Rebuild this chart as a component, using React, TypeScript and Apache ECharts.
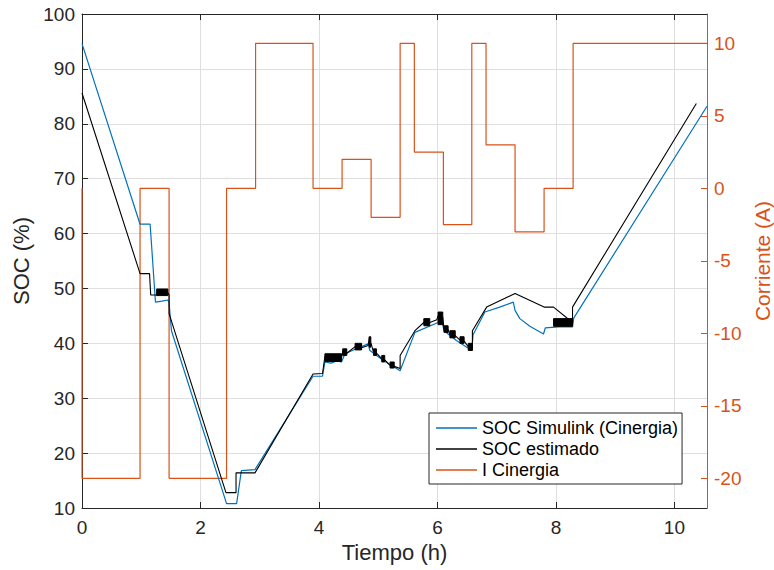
import React, { useEffect, useRef } from 'react';
import * as echarts from 'echarts';

// SOC Simulink (Cinergia) – time (h) / SOC (%)
const tSim = [0, 0.98, 1.15, 1.24, 1.35, 1.45, 1.47, 1.51, 2.44, 2.61, 2.69, 2.92, 3.90, 4.06, 4.10, 4.20, 4.30, 4.38, 4.44, 4.63, 4.83, 4.86, 5.08, 5.37, 5.62, 6.01, 6.07, 6.11, 6.32, 6.58, 6.60, 6.80, 7.05, 7.28, 7.31, 7.39, 7.56, 7.79, 7.82, 8.05, 8.28, 8.30, 10.55];
const socSim = [94.6, 61.7, 61.7, 47.5, 47.7, 47.9, 47.4, 42.3, 10.8, 10.8, 16.8, 17.0, 34.0, 34.0, 36.6, 36.4, 36.8, 36.6, 38.1, 39.0, 39.9, 38.7, 36.9, 35.0, 42.0, 43.8, 44.3, 42.3, 40.5, 38.7, 41.5, 45.7, 46.6, 47.5, 46.0, 44.5, 43.1, 41.7, 42.8, 43.0, 43.0, 44.6, 83.2];

// SOC estimado
const tEst = [0, 0.98, 1.14, 1.16, 1.26, 1.45, 1.47, 1.47, 2.43, 2.60, 2.60, 2.92, 3.90, 4.06, 4.10, 4.38, 4.40, 4.47, 4.61, 4.72, 4.83, 4.85, 4.86, 4.88, 4.92, 4.97, 5.06, 5.11, 5.20, 5.27, 5.37, 5.37, 5.62, 5.77, 5.87, 5.99, 6.01, 6.09, 6.11, 6.18, 6.21, 6.30, 6.38, 6.45, 6.52, 6.59, 6.59, 6.83, 7.31, 7.80, 7.96, 8.28, 8.28, 10.37];
const socEst = [85.6, 52.7, 52.7, 48.8, 48.8, 49.2, 48.8, 45.4, 12.8, 12.8, 16.4, 16.4, 34.4, 34.5, 37.6, 37.4, 38.4, 38.2, 39.4, 39.2, 39.6, 41.2, 39.3, 40.0, 38.4, 38.2, 37.2, 37.0, 36.0, 35.8, 35.4, 37.8, 42.3, 43.8, 43.8, 44.3, 45.0, 44.8, 42.6, 42.5, 41.6, 41.4, 40.6, 40.4, 39.4, 39.0, 42.3, 46.6, 49.1, 46.6, 46.6, 43.8, 46.6, 83.7];

// dense oscillation bands of SOC estimado
const bandStart = [1.26, 4.10, 4.40, 4.61, 4.85, 4.92, 5.06, 5.20, 5.77, 6.01, 6.11, 6.21, 6.38, 6.52, 7.96];
const bandEnd = [1.45, 4.38, 4.47, 4.72, 4.875, 4.97, 5.11, 5.27, 5.87, 6.09, 6.18, 6.30, 6.45, 6.59, 8.28];
const bandLow = [48.7, 36.7, 37.8, 38.8, 39.3, 37.8, 36.6, 35.5, 43.2, 43.4, 42.0, 41.0, 40.0, 38.7, 43.1];
const bandHigh = [49.9, 38.1, 39.0, 40.0, 41.2, 39.0, 37.8, 36.6, 44.5, 45.7, 43.2, 42.3, 41.2, 40.0, 44.5];

// I Cinergia – step changes (time h, current A)
const tCur = [0, 0, 0.98, 1.47, 2.44, 2.93, 3.90, 4.39, 4.88, 5.37, 5.61, 6.10, 6.58, 6.82, 7.31, 7.80, 8.29, 10.55];
const iCur = [0, -20, 0, -20, 0, 10, 0, 2, -2, 10, 2.5, -2.5, 10, 3, -3, 0, 10, 10];

const xTicks = [0, 2, 4, 6, 8, 10];
const rightTicks = [-20, -15, -10, -5, 0, 5, 10];

const FONT = "'Liberation Sans', Arial, Helvetica, sans-serif";
const AX = '#262626';
const ORANGE = '#D95319';
const BLUE = '#0072BD';
const GRID = '#dfdfdf';

export default function App() {
  const ref = useRef<HTMLDivElement>(null);
  useEffect(() => {
    const chart = echarts.init(ref.current as HTMLDivElement, null, { renderer: 'svg' });
    chart.setOption({
      animation: false,
      backgroundColor: '#fff',
      textStyle: { fontFamily: FONT },
      grid: { left: 82, top: 14, width: 625, height: 494, containLabel: false, outerBoundsMode: 'none' },
      legend: {
        data: ['SOC Simulink (Cinergia)', 'SOC estimado', 'I Cinergia'],
        orient: 'vertical',
        left: 429,
        top: 413,
        icon: 'rect',
        backgroundColor: '#fff',
        borderColor: AX,
        borderWidth: 1,
        borderRadius: 0,
        padding: [6, 4, 5, 7],
        itemWidth: 41,
        itemHeight: 1.3,
        itemGap: 3,
        selectedMode: false,
        textStyle: { fontSize: 18, color: '#000', fontFamily: FONT },
        z: 20,
      },
      xAxis: [
        {
          type: 'value',
          position: 'bottom',
          min: 0,
          max: 10.55,
          interval: 2,
          name: 'Tiempo (h)',
          nameLocation: 'middle',
          nameGap: 31,
          nameTextStyle: { fontSize: 22, color: AX, fontFamily: FONT },
          axisLine: { show: true, onZero: false, lineStyle: { color: AX, width: 1 } },
          axisTick: { show: true, inside: true, length: 6, customValues: xTicks, lineStyle: { color: AX } },
          axisLabel: { fontSize: 19, color: AX, margin: 10, customValues: xTicks, fontFamily: FONT },
          splitLine: { show: true, lineStyle: { color: GRID, width: 1 } },
        },
        {
          type: 'value',
          position: 'top',
          min: 0,
          max: 10.55,
          interval: 2,
          axisLine: { show: true, onZero: false, lineStyle: { color: AX, width: 1 } },
          axisTick: { show: true, inside: true, length: 6, customValues: xTicks, lineStyle: { color: AX } },
          axisLabel: { show: false },
          splitLine: { show: false },
        },
      ],
      yAxis: [
        {
          type: 'value',
          position: 'left',
          min: 10,
          max: 100,
          interval: 10,
          name: 'SOC (%)',
          nameLocation: 'middle',
          nameRotate: 90,
          nameGap: 49,
          nameTextStyle: { fontSize: 22, color: AX, fontFamily: FONT },
          axisLine: { show: true, onZero: false, lineStyle: { color: AX, width: 1 } },
          axisTick: { show: true, inside: true, length: 6, lineStyle: { color: AX } },
          axisLabel: { fontSize: 19, color: AX, margin: 7, fontFamily: FONT },
          splitLine: { show: true, lineStyle: { color: GRID, width: 1 } },
        },
        {
          type: 'value',
          position: 'right',
          min: -22.05,
          max: 12.02,
          name: 'Corriente (A)',
          nameLocation: 'middle',
          nameRotate: 90,
          nameGap: 43,
          nameTextStyle: { fontSize: 21, color: ORANGE, fontFamily: FONT, lineHeight: 21 },
          axisLine: { show: true, onZero: false, lineStyle: { color: ORANGE, width: 1 } },
          axisTick: { show: true, inside: true, length: 6, customValues: rightTicks, lineStyle: { color: ORANGE } },
          axisLabel: { fontSize: 19, color: ORANGE, margin: 7, customValues: rightTicks, fontFamily: FONT },
          splitLine: { show: false },
        },
      ],
      series: [
        {
          name: 'I Cinergia',
          type: 'line',
          xAxisIndex: 0,
          yAxisIndex: 1,
          step: 'end',
          symbol: 'none',
          data: tCur.map((t, i) => [t, iCur[i]]),
          lineStyle: { color: ORANGE, width: 1.2 },
          itemStyle: { color: ORANGE },
          z: 2,
        },
        {
          name: 'SOC Simulink (Cinergia)',
          type: 'line',
          xAxisIndex: 0,
          yAxisIndex: 0,
          symbol: 'none',
          data: tSim.map((t, i) => [t, socSim[i]]),
          lineStyle: { color: BLUE, width: 1.2 },
          itemStyle: { color: BLUE },
          z: 3,
        },
        {
          name: 'SOC estimado',
          type: 'line',
          xAxisIndex: 0,
          yAxisIndex: 0,
          symbol: 'none',
          data: tEst.map((t, i) => [t, socEst[i]]),
          lineStyle: { color: '#000', width: 1.1 },
          itemStyle: { color: '#000' },
          z: 4,
        },
        {
          name: 'bandas',
          type: 'custom',
          xAxisIndex: 0,
          yAxisIndex: 0,
          z: 5,
          data: bandStart.map((s, i) => [s, bandEnd[i], bandLow[i], bandHigh[i]]),
          encode: { x: [0, 1], y: [2, 3] },
          renderItem: (params: any, api: any) => {
            const p0 = api.coord([api.value(0), api.value(3)]);
            const p1 = api.coord([api.value(1), api.value(2)]);
            return {
              type: 'rect',
              shape: { x: p0[0], y: p0[1], width: Math.max(1.5, p1[0] - p0[0]), height: p1[1] - p0[1] },
              style: { fill: '#000', stroke: '#000', lineWidth: 1 },
            };
          },
        },
      ],
    });
    return () => chart.dispose();
  }, []);
  return (
    <div
      ref={ref}
      style={{ position: 'absolute', left: 0, top: 0, width: 774, height: 570, background: '#fff' }}
    />
  );
}
